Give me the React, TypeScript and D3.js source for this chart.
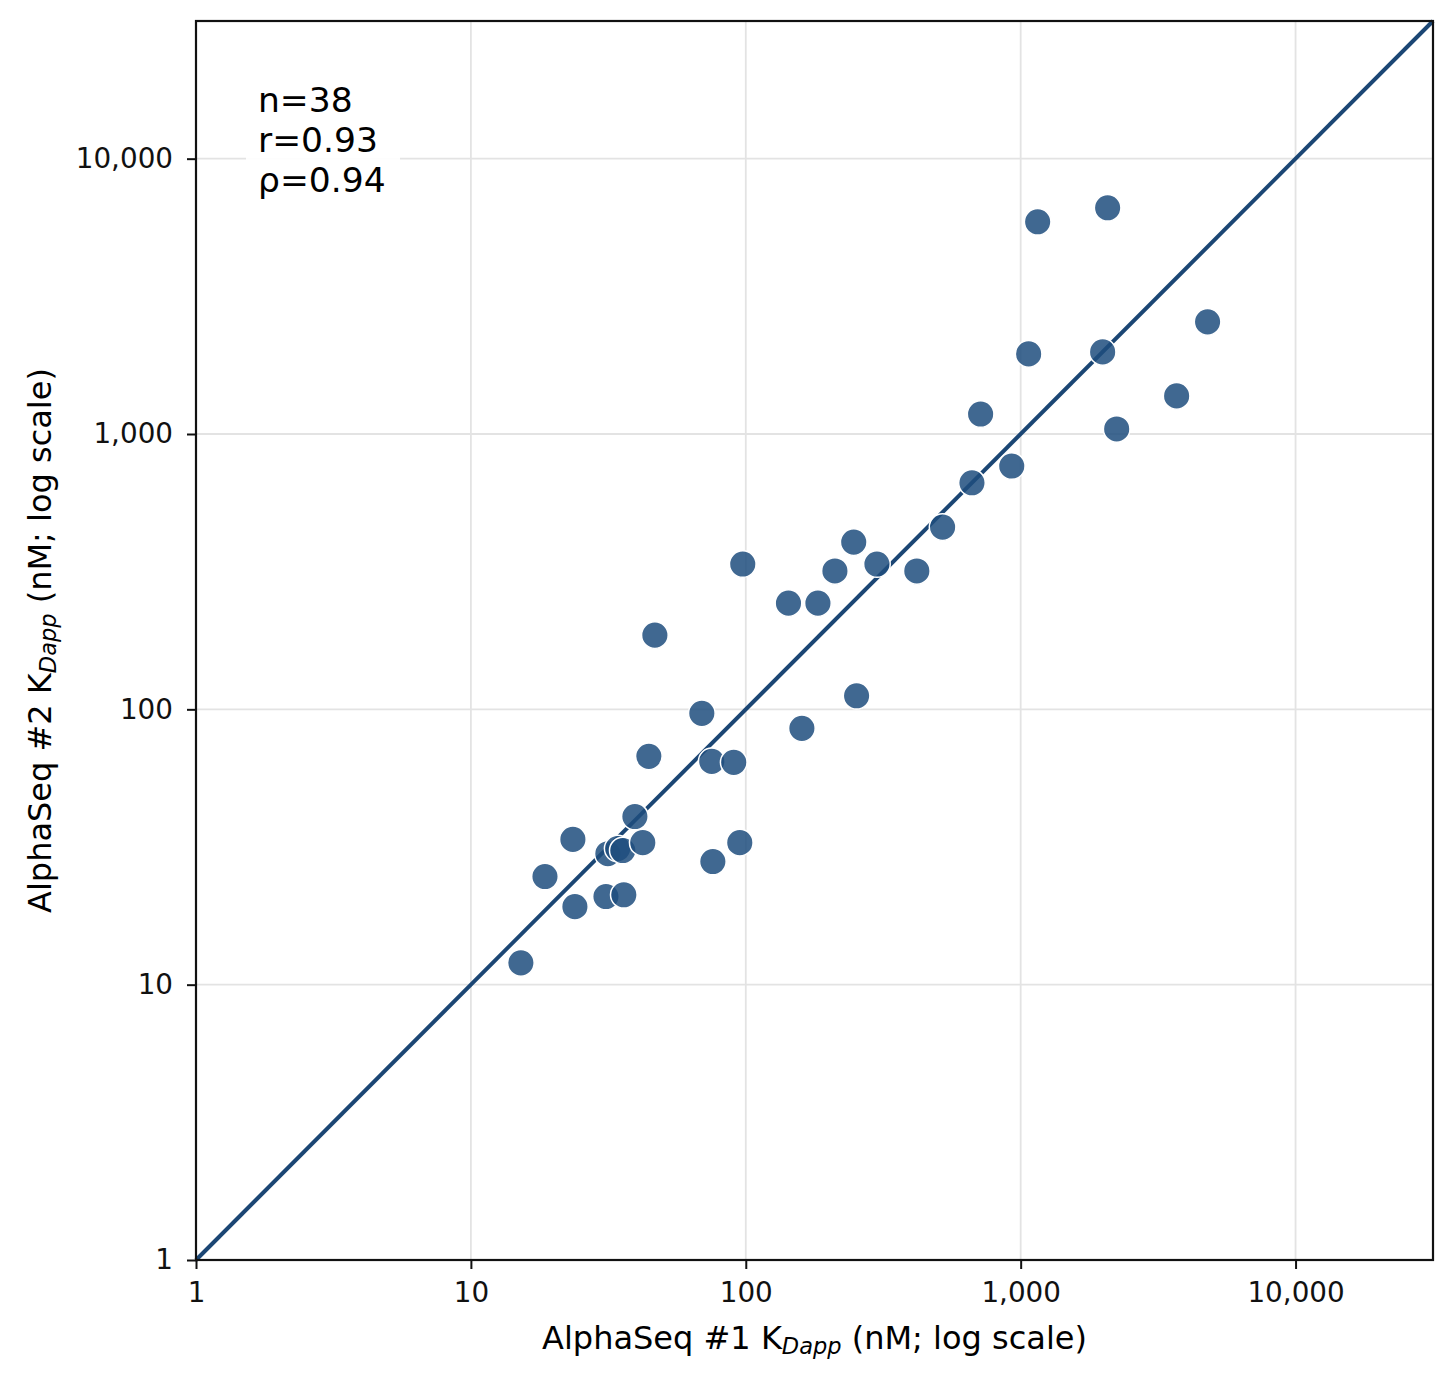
import React, { useRef, useEffect } from "react";
import * as d3 from "d3";

// AlphaSeq replicate KDapp values (nM)
const rep1 = [
  15.2, 18.6, 23.5, 23.9, 31.0, 36.0, 31.5, 34.2, 35.7, 42.2,
  39.5, 44.4, 46.7, 69.2, 75.2, 75.9, 90.4, 95.1, 97.5, 143,
  160, 183, 211, 247, 253, 300, 419, 520, 665, 715,
  928, 1069, 1153, 1987, 2072, 2235, 3693, 4786,
];
const rep2 = [
  12.0, 24.7, 33.7, 19.2, 20.9, 21.2, 29.9, 31.2, 30.7, 32.8,
  40.8, 67.5, 186, 96.7, 64.7, 28.0, 64.2, 32.8, 337, 243,
  85.3, 243, 318, 405, 112, 337, 318, 459, 665, 1182,
  765, 1954, 5899, 1987, 6633, 1043, 1375, 2555,
];
const tickValues = [1, 10, 100, 1000, 10000];
const statLines = ["n=38", "r=0.93", "ρ=0.94"];

export default function App() {
  const ref = useRef<SVGSVGElement | null>(null);

  useEffect(() => {
    const width = 1456;
    const height = 1383;
    const margin = { top: 21, right: 23, bottom: 123, left: 196 };
    const innerW = width - margin.left - margin.right;
    const innerH = height - margin.top - margin.bottom;
    const font = "DejaVu Sans, sans-serif";
    const navy = "#1b4674";

    d3.select(ref.current).selectAll("*").remove();
    const svg = d3.select(ref.current).attr("width", width).attr("height", height);

    const dom: [number, number] = [1, Math.pow(10, 4.5)];
    const x = d3.scaleLog().domain(dom).range([0, innerW]);
    const y = d3.scaleLog().domain(dom).range([innerH, 0]);
    const fmt = d3.format(",");

    const g = svg.append("g").attr("transform", `translate(${margin.left},${margin.top})`);

    // grid
    g.selectAll(".gx").data(tickValues).enter().append("line")
      .attr("x1", (d) => x(d)).attr("x2", (d) => x(d))
      .attr("y1", 0).attr("y2", innerH)
      .attr("stroke", "#e3e3e3").attr("stroke-width", 1.8);
    g.selectAll(".gy").data(tickValues).enter().append("line")
      .attr("y1", (d) => y(d)).attr("y2", (d) => y(d))
      .attr("x1", 0).attr("x2", innerW)
      .attr("stroke", "#e3e3e3").attr("stroke-width", 1.8);

    // identity line
    g.append("line")
      .attr("x1", x(dom[0])).attr("y1", y(dom[0]))
      .attr("x2", x(dom[1])).attr("y2", y(dom[1]))
      .attr("stroke", navy).attr("stroke-width", 4);

    // points
    g.selectAll("circle").data(d3.range(rep1.length)).enter().append("circle")
      .attr("cx", (i) => x(rep1[i]))
      .attr("cy", (i) => y(rep2[i]))
      .attr("r", 13.3)
      .attr("fill", "#1f4d7e")
      .attr("fill-opacity", 0.85)
      .attr("stroke", "#ffffff")
      .attr("stroke-width", 1.5);

    // axes
    const xAxis = d3.axisBottom(x).tickValues(tickValues).tickFormat((d) => fmt(d as number)).tickSizeOuter(0).tickSize(9).tickPadding(13);
    const yAxis = d3.axisLeft(y).tickValues(tickValues).tickFormat((d) => fmt(d as number)).tickSizeOuter(0).tickSize(9).tickPadding(14);
    const gx = g.append("g").attr("transform", `translate(0,${innerH})`).call(xAxis);
    const gy = g.append("g").call(yAxis);
    [gx, gy].forEach((a) => {
      a.select(".domain").remove();
      a.selectAll(".tick line").attr("stroke", "#111").attr("stroke-width", 2);
      a.selectAll(".tick text").attr("font-family", font).attr("font-size", 27.8).attr("fill", "#111");
    });

    // frame
    g.append("rect")
      .attr("width", innerW).attr("height", innerH)
      .attr("fill", "none").attr("stroke", "#111").attr("stroke-width", 2.2);

    // stats box
    g.append("rect")
      .attr("x", 50).attr("y", 60).attr("width", 154).attr("height", 134)
      .attr("fill", "#ffffff").attr("opacity", 0.9);
    const st = g.append("text").attr("font-family", font).attr("font-size", 34.5).attr("fill", "#000");
    statLines.forEach((s, i) => {
      st.append("tspan").attr("x", 62).attr("y", 91 + i * 40).text(s);
    });

    // axis labels
    const xl = svg.append("text")
      .attr("x", margin.left + innerW / 2).attr("y", 1349)
      .attr("text-anchor", "middle")
      .attr("font-family", font).attr("font-size", 32).attr("fill", "#000");
    xl.append("tspan").text("AlphaSeq #1 K");
    xl.append("tspan").attr("font-size", 22.5).attr("font-style", "italic").attr("dy", 5).text("Dapp");
    xl.append("tspan").attr("dy", -5).text(" (nM; log scale)");

    const yl = svg.append("text")
      .attr("transform", `translate(51,${margin.top + innerH / 2}) rotate(-90)`)
      .attr("text-anchor", "middle")
      .attr("font-family", font).attr("font-size", 32).attr("fill", "#000");
    yl.append("tspan").text("AlphaSeq #2 K");
    yl.append("tspan").attr("font-size", 22.5).attr("font-style", "italic").attr("dy", 5).text("Dapp");
    yl.append("tspan").attr("dy", -5).text(" (nM; log scale)");
  }, []);

  return (
    <div style={{ position: "absolute", left: 0, top: 0, background: "#fff" }}>
      <svg ref={ref}></svg>
    </div>
  );
}
